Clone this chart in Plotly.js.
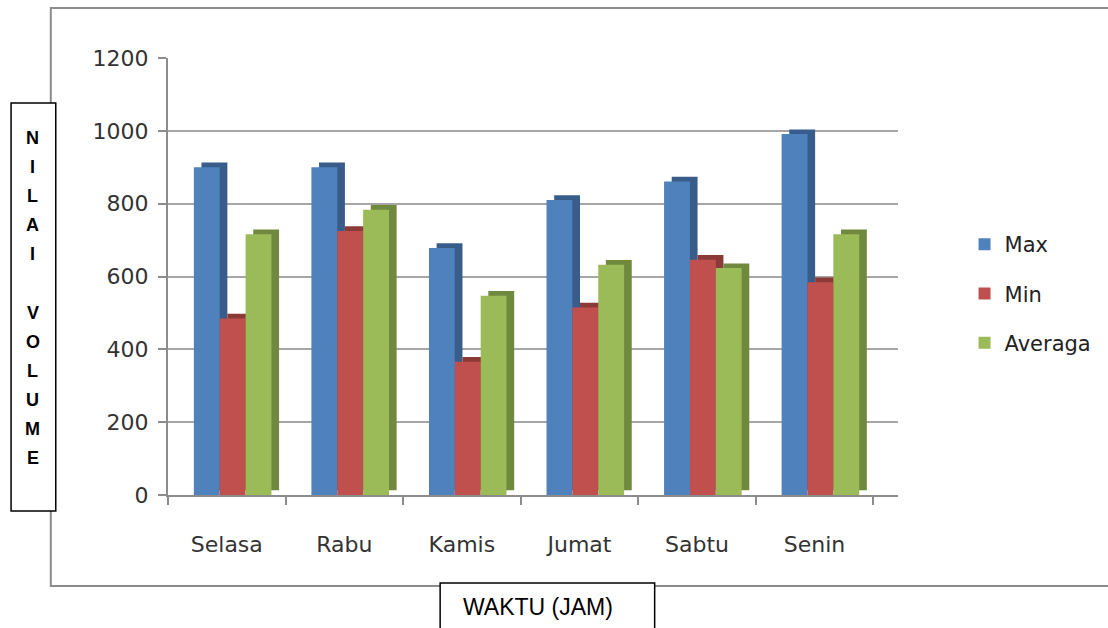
<!DOCTYPE html>
<html>
<head>
<meta charset="utf-8">
<script src="https://cdn.plot.ly/plotly-3.0.1.min.js"></script>
<style>html,body{margin:0;padding:0;background:#fff;}#chart{width:1108px;height:628px;}</style>
</head>
<body>
<div id="chart"></div>
<script>
const categories = ['Selasa', 'Rabu', 'Kamis', 'Jumat', 'Sabtu', 'Senin'];
const maxValues = [900, 900, 678, 810, 861, 991];
const minValues = [485, 725, 366, 515, 646, 584];
const averageValues = [716, 783, 547, 632, 623, 716];
const seriesNames = ['Max', 'Min', 'Averaga'];
const yTitleLetters = ['N', 'I', 'L', 'A', 'I', '', 'V', 'O', 'L', 'U', 'M', 'E'];
const xTitleText = 'WAKTU (JAM)';

const W = 1108, H = 628;
const L = 168, R = 205, T = 58, B = 133;
const pw = W - L - R, ph = H - T - B;
const px2x = p => (p - L) / pw;
const py2y = p => (H - B - p) / ph;

const frontColors = ['#4F81BD', '#C0504D', '#9BBB59'];
const sideColors = ['#385D8A', '#8C3A38', '#71893F'];
const seriesValues = [maxValues, minValues, averageValues];
const barWidth = 0.22;
const offsets = [-0.28, -0.06, 0.16];
const depthX = 0.065, depthY = 13;

const traces = [];
// depth (side/top) faces first
seriesValues.forEach((vals, i) => {
  traces.push({
    type: 'bar', x: categories, y: vals, base: depthY,
    width: barWidth, offset: offsets[i] + depthX,
    marker: {color: sideColors[i], line: {width: 0}},
    showlegend: false, hoverinfo: 'skip'
  });
});
seriesValues.forEach((vals, i) => {
  traces.push({
    type: 'bar', x: categories, y: vals, name: seriesNames[i],
    width: barWidth, offset: offsets[i], legendgroup: 'g' + i,
    marker: {color: frontColors[i], line: {width: 0}}
  });
});

const annotations = [];
yTitleLetters.forEach((ch, i) => {
  if (!ch) return;
  annotations.push({
    xref: 'paper', yref: 'paper', x: px2x(32), y: py2y(138 + i * 29.1),
    xanchor: 'center', yanchor: 'middle', showarrow: false, text: ch,
    font: {family: 'Liberation Sans, Arial, sans-serif', size: 18, color: '#000', weight: 'bold'}
  });
});
annotations.push({
  xref: 'paper', yref: 'paper', x: px2x(541), y: py2y(607),
  xanchor: 'center', yanchor: 'middle', showarrow: false, text: xTitleText,
  font: {family: 'Liberation Sans, Arial, sans-serif', size: 23, color: '#000'}
});

const shapes = [
  {type: 'rect', xref: 'paper', yref: 'paper', layer: 'below',
   x0: px2x(50), x1: px2x(1125), y0: py2y(586), y1: py2y(8),
   line: {color: '#8c8c8c', width: 2}, fillcolor: 'rgba(0,0,0,0)'},
  {type: 'rect', xref: 'paper', yref: 'paper', layer: 'above',
   x0: px2x(10), x1: px2x(55), y0: py2y(511), y1: py2y(103),
   line: {color: '#000', width: 1.5}, fillcolor: '#fff'},
  {type: 'rect', xref: 'paper', yref: 'paper', layer: 'above',
   x0: px2x(442), x1: px2x(658), y0: py2y(645), y1: py2y(583),
   line: {color: '#000', width: 1.5}, fillcolor: '#fff'}
];

const tickFont = {family: 'DejaVu Sans, sans-serif', size: 22, color: '#333'};

const layout = {
  width: W, height: H,
  margin: {l: L, r: R, t: T, b: B, pad: 0},
  paper_bgcolor: '#fff', plot_bgcolor: '#fff',
  barmode: 'overlay',
  showlegend: true,
  legend: {
    x: px2x(970), y: py2y(224), xanchor: 'left', yanchor: 'top',
    font: {family: 'DejaVu Sans, sans-serif', size: 21, color: '#222'},
    traceorder: 'grouped', tracegroupgap: 19, bgcolor: 'rgba(0,0,0,0)'
  },
  xaxis: {
    type: 'category', range: [-0.5, 5.71],
    showline: true, linecolor: '#8c8c8c', linewidth: 2,
    ticks: 'outside', tickson: 'boundaries', ticklen: 8, tickcolor: '#8c8c8c', tickwidth: 2,
    showgrid: false, tickfont: tickFont, ticklabelstandoff: 29,
    fixedrange: true
  },
  yaxis: {
    range: [0, 1200], tickvals: [0, 200, 400, 600, 800, 1000, 1200],
    showline: true, linecolor: '#8c8c8c', linewidth: 2,
    ticks: 'outside', ticklen: 8, tickcolor: '#8c8c8c', tickwidth: 2,
    showgrid: true, gridcolor: '#a6a6a6', gridwidth: 2,
    zeroline: false, tickfont: tickFont, ticklabelstandoff: 5,
    fixedrange: true
  },
  annotations: annotations,
  shapes: shapes
};

Plotly.newPlot('chart', traces, layout, {displayModeBar: false, staticPlot: true});
</script>
</body>
</html>
